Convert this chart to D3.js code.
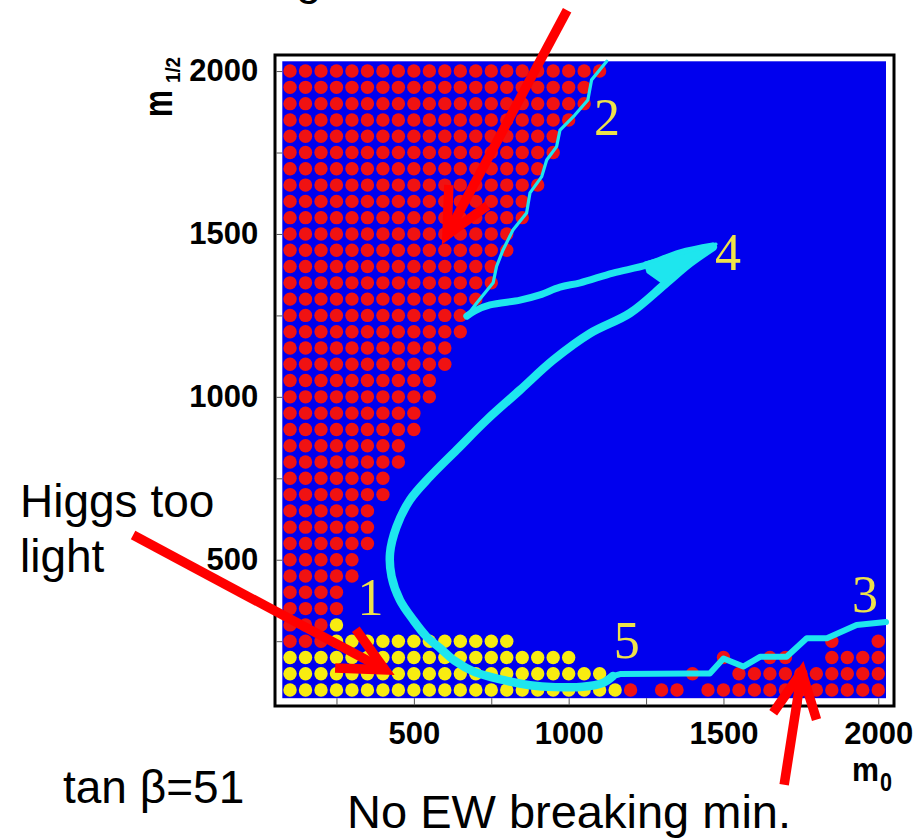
<!DOCTYPE html>
<html>
<head>
<meta charset="utf-8">
<script src="https://cdn.jsdelivr.net/npm/d3@7"></script>
<style>
  html, body { margin: 0; padding: 0; background: #fff; }
  svg { display: block; }
</style>
</head>
<body>
<svg id="chart" width="924" height="838"></svg>
<script>
// ---- scan of the (m0, m1/2) plane, tan(beta) = 51, GeV ----
const scanStep = 50;
const scanStartM0 = 100;

// rows excluded by a charged LSP: [m1/2, largest excluded m0]
const chargedRows = [
  [2000, 1100], [1950, 1050], [1900, 1050], [1850, 1000], [1800, 950],
  [1750, 950], [1700, 900], [1650, 900], [1600, 850], [1550, 850],
  [1500, 800], [1450, 800], [1400, 750], [1350, 750], [1300, 700],
  [1250, 650], [1200, 650], [1150, 600], [1100, 600], [1050, 550],
  [1000, 550], [950, 500], [900, 500], [850, 450], [800, 450],
  [750, 400], [700, 400], [650, 350], [600, 350], [550, 350],
  [500, 300], [450, 300], [400, 250], [350, 250], [300, 200], [250, 200]
];

// rows where the Higgs is too light: [m1/2, first m0, last m0]
const lightHiggsRows = [
  [300, 250, 250], [250, 250, 800], [200, 100, 1000],
  [150, 100, 1100], [100, 100, 1150]
];

// points without an electroweak breaking minimum: [m1/2, m0 list]
const noEwsbRows = [
  [250, [1850, 2000]],
  [200, [1500, 1650, 1700, 1850, 1900, 1950, 2000]],
  [150, [1400, 1550, 1600, 1650, 1700, 1750, 1800, 1850, 1900, 1950, 2000]],
  [100, [1200, 1300, 1350, 1450, 1500, 1550, 1600, 1650, 1700, 1750, 1800, 1850, 1900, 1950, 2000]]
];

// WMAP-allowed strip, as [m0, m1/2] points
const stripEdge = [
  [1123, 2030], [1074, 1973], [1062, 1911], [1020, 1865], [972, 1819],
  [961, 1768], [929, 1727], [913, 1676], [875, 1626], [864, 1564],
  [820, 1512], [788, 1451], [767, 1400], [756, 1350], [703, 1288], [671, 1248]
];
const stripUpper = [
  [671, 1248], [697, 1264], [746, 1282], [843, 1297], [907, 1313],
  [972, 1337], [1037, 1350], [1143, 1380], [1253, 1405], [1360, 1442], [1466, 1463]
];
const stripTip = [[1476, 1469], [1247, 1411], [1256, 1383], [1305, 1350]];
const stripLower = [
  [1466, 1460], [1392, 1411], [1311, 1346], [1198, 1257], [1069, 1195],
  [950, 1113], [843, 1021], [735, 929], [638, 837], [552, 755],
  [487, 683], [444, 601], [423, 520], [428, 448], [455, 376],
  [498, 315], [541, 264], [584, 229], [633, 189], [697, 155],
  [788, 131], [875, 115], [956, 109], [1046, 110], [1111, 122], [1143, 143]
];
const stripBottom = [
  [1143, 143], [1166, 149], [1392, 151], [1456, 151], [1500, 197],
  [1564, 172], [1618, 202], [1704, 202], [1769, 259], [1834, 259],
  [1930, 300], [2025, 309]
];

// numbered points along the strip: [label, m0, m1/2]
const stripLabels = [
  ["1", 360, 330], ["2", 1124, 1804], ["3", 1957, 340],
  ["4", 1515, 1389], ["5", 1188, 198]
];

// annotation arrows: [tail m0, tail m1/2, head m0, head m1/2]
const arrows = [
  [995, 2187, 607, 1497],
  [-407, 576, 407, 162],
  [1696, -191, 1753, 156]
];

const xTicks = [250, 500, 750, 1000, 1250, 1500, 1750, 2000];
const xTickLabels = [500, 1000, 1500, 2000];
const yTicks = [250, 500, 750, 1000, 1250, 1500, 1750, 2000];
const yTickLabels = [500, 1000, 1500, 2000];

// ---- drawing ----
const C = {
  blue: "#0000ee", red: "#f01212", yellow: "#f8ec10",
  cyan: "#1ee6ee", label: "#eee24a", arrow: "#ff0000"
};
const sans = "'Liberation Sans', Arial, Helvetica, sans-serif";
const serif = "'Liberation Serif', 'Times New Roman', serif";

const svg = d3.select("#chart");
svg.append("rect").attr("width", 924).attr("height", 838).attr("fill", "#fff");

const x = d3.scaleLinear().domain([75, 2025]).range([282.3, 886]);
const y = d3.scaleLinear().domain([75, 2030]).range([698.2, 61.3]);

svg.append("rect")
  .attr("x", x(75)).attr("y", y(2030))
  .attr("width", x(2025) - x(75)).attr("height", y(75) - y(2030))
  .attr("fill", C.blue);

// scan points
const redPts = [];
chargedRows.forEach(([m12, last]) => {
  for (let m0 = scanStartM0; m0 <= last; m0 += scanStep) redPts.push([m0, m12]);
});
noEwsbRows.forEach(([m12, list]) => list.forEach(m0 => redPts.push([m0, m12])));
const yellowPts = [];
lightHiggsRows.forEach(([m12, a, b]) => {
  for (let m0 = a; m0 <= b; m0 += scanStep) yellowPts.push([m0, m12]);
});

const dotR = 6.7;
svg.append("g").selectAll("circle").data(redPts).join("circle")
  .attr("cx", d => x(d[0])).attr("cy", d => y(d[1])).attr("r", dotR)
  .attr("fill", C.red);
svg.append("g").selectAll("circle").data(yellowPts).join("circle")
  .attr("cx", d => x(d[0])).attr("cy", d => y(d[1])).attr("r", dotR)
  .attr("fill", C.yellow);

// allowed strip
const lineLin = d3.line().x(d => x(d[0])).y(d => y(d[1]));
const lineSmooth = d3.line().x(d => x(d[0])).y(d => y(d[1])).curve(d3.curveCatmullRom.alpha(0.5));
const strip = svg.append("g").attr("fill", "none").attr("stroke", C.cyan)
  .attr("stroke-linejoin", "round").attr("stroke-linecap", "round");
strip.append("path").attr("d", lineLin(stripEdge)).attr("stroke-width", 3.2);
strip.append("path").attr("d", lineSmooth(stripUpper)).attr("stroke-width", 7);
strip.append("path").attr("d", lineSmooth(stripLower)).attr("stroke-width", 8.5);
strip.append("path").attr("d", lineLin(stripBottom)).attr("stroke-width", 6);
svg.append("path").attr("d", lineLin(stripTip) + "Z").attr("fill", C.cyan)
  .attr("stroke", C.cyan).attr("stroke-width", 3).attr("stroke-linejoin", "round");

// frame and axes
svg.append("rect").attr("x", 275).attr("y", 55).attr("width", 619).attr("height", 651)
  .attr("fill", "none").attr("stroke", "#000").attr("stroke-width", 3);

const tickFmt = labels => d => labels.includes(d) ? String(d) : "";
const gx = svg.append("g").attr("transform", `translate(0,${y(75)})`)
  .call(d3.axisBottom(x).tickValues(xTicks).tickSize(7).tickPadding(17)
    .tickFormat(tickFmt(xTickLabels)));
const gy = svg.append("g").attr("transform", `translate(${x(75)},0)`)
  .call(d3.axisLeft(y).tickValues(yTicks).tickSize(6).tickPadding(18)
    .tickFormat(tickFmt(yTickLabels)));
[gx, gy].forEach(g => {
  g.select(".domain").remove();
  g.selectAll(".tick line").attr("stroke", "#555").attr("stroke-width", 1);
  g.selectAll(".tick text").attr("fill", "#000")
    .style("font-family", sans).style("font-weight", "bold").style("font-size", "31px");
});

// axis titles
const yTitle = svg.append("text").attr("transform", "translate(172,117) rotate(-90)")
  .style("font-family", sans).style("font-weight", "bold").attr("fill", "#000");
yTitle.append("tspan").attr("x", 0).attr("y", 0).style("font-size", "40px")
  .attr("textLength", 27).attr("lengthAdjust", "spacingAndGlyphs").text("m");
yTitle.append("tspan").attr("x", 34).attr("y", 8).style("font-size", "21px")
  .attr("textLength", 26).attr("lengthAdjust", "spacingAndGlyphs").text("1/2");

const xTitle = svg.append("text").style("font-family", sans).style("font-weight", "bold")
  .attr("fill", "#000");
xTitle.append("tspan").attr("x", 852).attr("y", 781).style("font-size", "33px")
  .attr("textLength", 27).attr("lengthAdjust", "spacingAndGlyphs").text("m");
xTitle.append("tspan").attr("x", 880).attr("y", 791).style("font-size", "25px")
  .attr("textLength", 12).attr("lengthAdjust", "spacingAndGlyphs").text("0");

// numbered strip points
svg.append("g").selectAll("text").data(stripLabels).join("text")
  .attr("x", d => x(d[1])).attr("y", d => y(d[2]))
  .attr("text-anchor", "middle").attr("fill", C.label)
  .style("font-family", serif).style("font-size", "52px")
  .text(d => d[0]);

// slide annotations
const note = (t, px, py, size) => svg.append("text").attr("x", px).attr("y", py)
  .style("font-family", sans).style("font-size", size + "px").attr("fill", "#000").text(t);
note("g", 296, -6, 46);
note("Higgs too", 20, 517, 46);
note("light", 20, 572, 46);
note("tan \u03B2=51", 63, 803, 46);
note("No EW breaking min.", 347, 828, 47);

// arrows
const ag = svg.append("g").attr("stroke", C.arrow).attr("stroke-width", 9.5).attr("fill", "none");
arrows.forEach(([t0, t1, h0, h1]) => {
  const tx = x(t0), ty = y(t1), hx = x(h0), hy = y(h1);
  const ang = Math.atan2(ty - hy, tx - hx);
  const len = 50, spread = 26 * Math.PI / 180;
  const b1 = [hx + len * Math.cos(ang + spread), hy + len * Math.sin(ang + spread)];
  const b2 = [hx + len * Math.cos(ang - spread), hy + len * Math.sin(ang - spread)];
  ag.append("line").attr("x1", tx).attr("y1", ty).attr("x2", hx).attr("y2", hy);
  ag.append("path").attr("d", `M${b1[0]},${b1[1]}L${hx},${hy}L${b2[0]},${b2[1]}`)
    .attr("stroke-linejoin", "miter").attr("stroke-miterlimit", 10);
});
</script>
</body>
</html>
